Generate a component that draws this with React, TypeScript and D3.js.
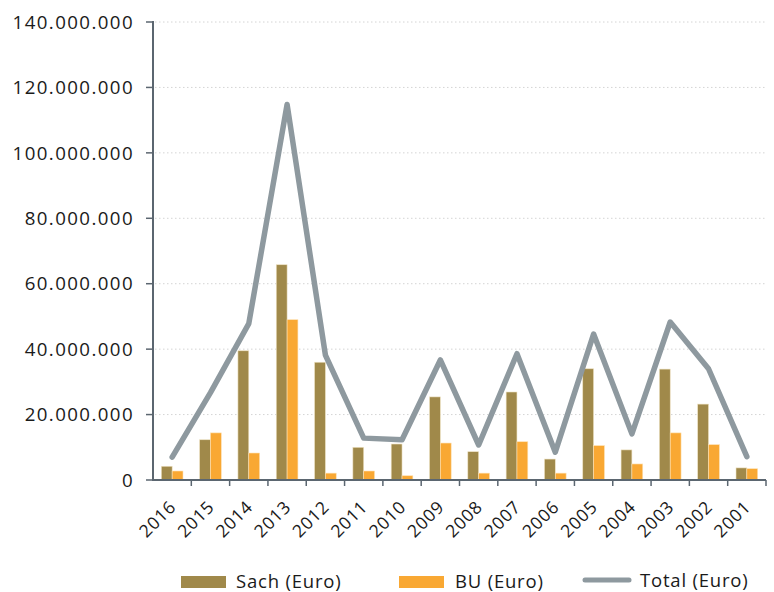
import React from "react";
import * as d3 from "d3";

const years = ["2016","2015","2014","2013","2012","2011","2010","2009","2008","2007","2006","2005","2004","2003","2002","2001"];
const sach = [4.2, 12.3, 39.5, 65.8, 36.0, 10.0, 11.0, 25.4, 8.65, 26.9, 6.4, 34.0, 9.2, 33.9, 23.2, 3.7].map(v => v * 1e6);
const bu = [2.75, 14.4, 8.25, 49.0, 2.1, 2.75, 1.3, 11.3, 2.1, 11.7, 2.1, 10.5, 4.9, 14.4, 10.8, 3.45].map(v => v * 1e6);
const total = [7.0, 26.7, 47.8, 114.8, 38.2, 12.8, 12.3, 36.7, 10.7, 38.6, 8.5, 44.6, 14.1, 48.3, 34.0, 7.15].map(v => v * 1e6);
const yTicks = [0, 20e6, 40e6, 60e6, 80e6, 100e6, 120e6, 140e6];
const seriesNames = ["Sach (Euro)", "BU (Euro)", "Total (Euro)"];

const C_SACH = "#a0894a";
const C_BU = "#f9a833";
const C_TOTAL = "#8e999f";
const C_AXIS = "#5b6670";
const FONT = "'Open Sans', sans-serif";

const fmt = (v: number) => d3.format(",")(v).replace(/,/g, ".");

export default function App() {
  const W = 774, H = 592;
  const left = 153, right = 766, top = 22, bottom = 480;
  const x = d3.scaleBand<string>().domain(years).range([left, right]).paddingInner(0).paddingOuter(0);
  const y = d3.scaleLinear().domain([0, 140e6]).range([bottom, top]);
  const bw = x.bandwidth() * 0.283;
  const cx = (yr: string) => (x(yr) as number) + x.bandwidth() / 2;
  const line = d3.line<number>().x((_, i) => cx(years[i])).y(d => y(d));

  return (
    <svg width={W} height={H} style={{ position: "absolute", left: 0, top: 0, background: "#fff" }} fontFamily={FONT}>
      {yTicks.filter(t => t > 0).map(t => (
        <line key={"g" + t} x1={left + 2} x2={right} y1={y(t)} y2={y(t)} stroke="#d4d4d4" strokeWidth={1} strokeDasharray="1.5,2.5" />
      ))}
      {years.map((yr, i) => (
        <g key={"b" + yr}>
          <rect x={cx(yr) - bw} y={y(sach[i])} width={bw} height={bottom - y(sach[i])} fill={C_SACH} stroke="#efe3c4" strokeWidth={0.6} />
          <rect x={cx(yr)} y={y(bu[i])} width={bw} height={bottom - y(bu[i])} fill={C_BU} stroke="#fde2b5" strokeWidth={0.6} />
        </g>
      ))}
      <path d={line(total) as string} fill="none" stroke={C_TOTAL} strokeWidth={5.5} strokeLinejoin="round" strokeLinecap="round" />
      <line x1={left} x2={left} y1={top - 1} y2={bottom + 1} stroke={C_AXIS} strokeWidth={2} />
      {yTicks.map(t => (
        <g key={"y" + t}>
          <line x1={left - 7} x2={left} y1={y(t)} y2={y(t)} stroke={C_AXIS} strokeWidth={1.5} />
          <text x={134} y={y(t)} dy="0.36em" textAnchor="end" fontSize={18.7} letterSpacing={1.4} fill="#1a1a1a">{fmt(t)}</text>
        </g>
      ))}
      <line x1={left} x2={right} y1={bottom} y2={bottom} stroke={C_AXIS} strokeWidth={2} />
      {years.map(yr => (
        <line key={"xt" + yr} x1={(x(yr) as number) + x.bandwidth()} x2={(x(yr) as number) + x.bandwidth()} y1={bottom} y2={bottom + 6} stroke={C_AXIS} strokeWidth={1.5} />
      ))}
      {years.map(yr => (
        <text key={"xl" + yr} transform={`translate(${cx(yr) + 5},${bottom + 28}) rotate(-45)`} textAnchor="end" fontSize={17.5} letterSpacing={0.8} fill="#1a1a1a">{yr}</text>
      ))}
      <rect x={181} y={576} width={45} height={12} fill={C_SACH} />
      <text x={236} y={581} dy="0.36em" fontSize={18.5} letterSpacing={0.8} fill="#1a1a1a">{seriesNames[0]}</text>
      <rect x={399} y={576} width={45} height={12} fill={C_BU} />
      <text x={455} y={581} dy="0.36em" fontSize={18.5} letterSpacing={0.8} fill="#1a1a1a">{seriesNames[1]}</text>
      <line x1={585} x2={629} y1={580} y2={580} stroke={C_TOTAL} strokeWidth={5} strokeLinecap="round" />
      <text x={640} y={580} dy="0.36em" fontSize={18.5} letterSpacing={0.8} fill="#1a1a1a">{seriesNames[2]}</text>
    </svg>
  );
}
